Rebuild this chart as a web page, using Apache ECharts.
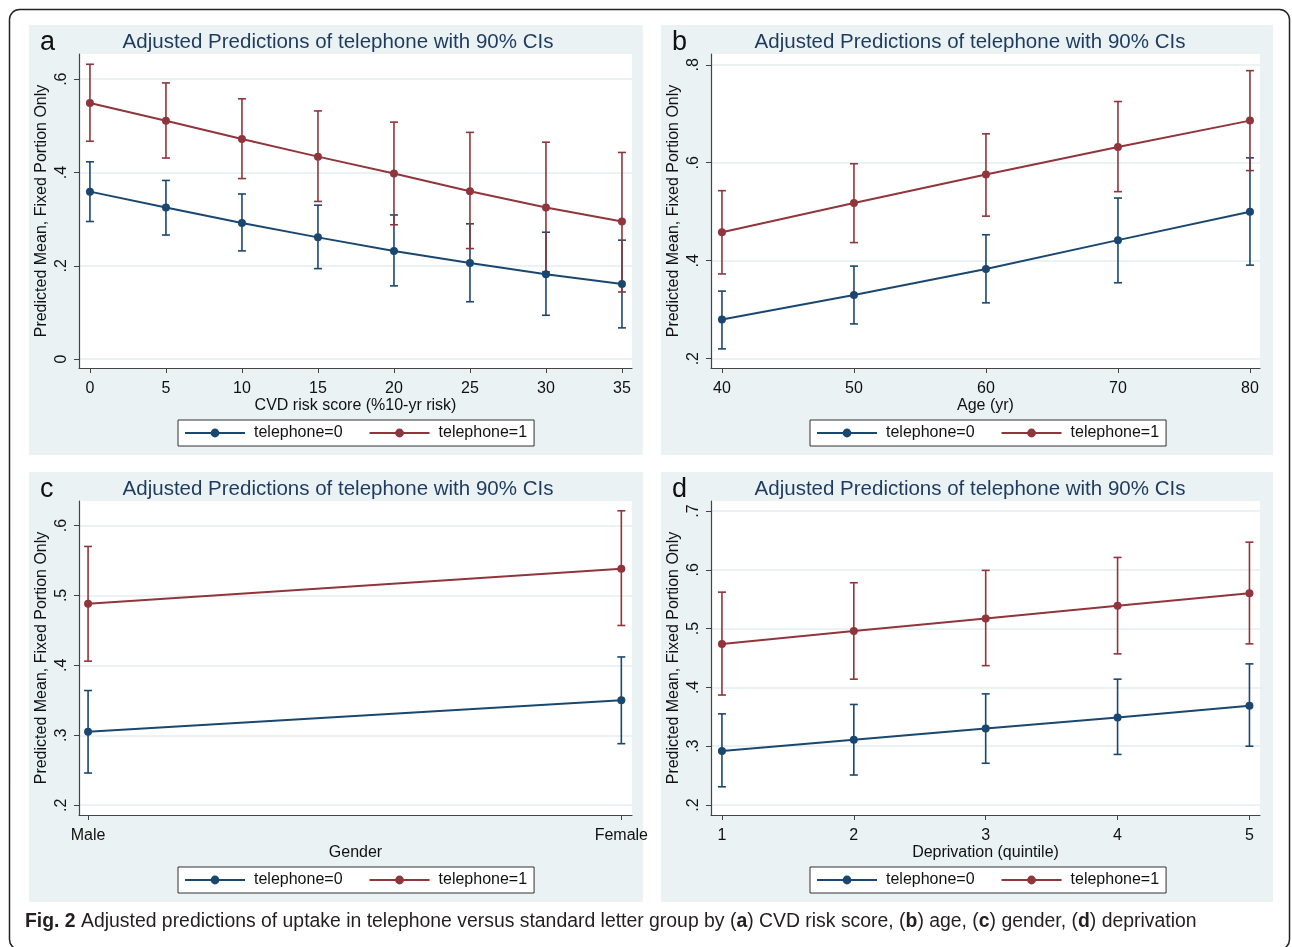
<!DOCTYPE html>
<html>
<head>
<meta charset="utf-8">
<title>Adjusted predictions of uptake</title>
<script src="https://cdn.jsdelivr.net/npm/echarts@6/dist/echarts.min.js"></script>
<style>
  html, body { margin: 0; padding: 0; background: #fff; }
  #main { width: 1292px; height: 947px; }
</style>
</head>
<body>
<div id="main"></div>
<script>
// ---- data ----
// (a) CVD risk score
const riskScore = [0, 5, 10, 15, 20, 25, 30, 35];
const riskTel0 = [0.359, 0.325, 0.292, 0.261, 0.232, 0.206, 0.182, 0.161];
const riskTel0Lo = [0.295, 0.266, 0.232, 0.194, 0.157, 0.123, 0.094, 0.067];
const riskTel0Hi = [0.423, 0.383, 0.354, 0.330, 0.309, 0.290, 0.272, 0.255];
const riskTel1 = [0.549, 0.511, 0.472, 0.434, 0.398, 0.360, 0.325, 0.295];
const riskTel1Lo = [0.467, 0.431, 0.387, 0.338, 0.288, 0.237, 0.187, 0.144];
const riskTel1Hi = [0.632, 0.592, 0.558, 0.532, 0.508, 0.486, 0.465, 0.443];
const riskTicksY = [0, 0.2, 0.4, 0.6];

// (b) age
const age = [40, 50, 60, 70, 80];
const ageTel0 = [0.280, 0.330, 0.383, 0.442, 0.500];
const ageTel0Lo = [0.220, 0.271, 0.314, 0.355, 0.391];
const ageTel0Hi = [0.338, 0.389, 0.453, 0.528, 0.610];
const ageTel1 = [0.458, 0.518, 0.576, 0.632, 0.686];
const ageTel1Lo = [0.373, 0.437, 0.491, 0.541, 0.584];
const ageTel1Hi = [0.543, 0.598, 0.659, 0.725, 0.788];
const ageTicksY = [0.2, 0.4, 0.6, 0.8];

// (c) gender
const gender = ["Male", "Female"];
const genderTel0 = [0.305, 0.350];
const genderTel0Lo = [0.246, 0.288];
const genderTel0Hi = [0.364, 0.412];
const genderTel1 = [0.488, 0.538];
const genderTel1Lo = [0.406, 0.457];
const genderTel1Hi = [0.570, 0.621];
const genderTicksY = [0.2, 0.3, 0.4, 0.5, 0.6];

// (d) deprivation quintile
const quintile = [1, 2, 3, 4, 5];
const depTel0 = [0.292, 0.311, 0.330, 0.349, 0.369];
const depTel0Lo = [0.231, 0.251, 0.271, 0.286, 0.300];
const depTel0Hi = [0.355, 0.371, 0.389, 0.414, 0.440];
const depTel1 = [0.474, 0.496, 0.517, 0.539, 0.560];
const depTel1Lo = [0.387, 0.414, 0.437, 0.457, 0.474];
const depTel1Hi = [0.562, 0.578, 0.599, 0.621, 0.647];
const depTicksY = [0.2, 0.3, 0.4, 0.5, 0.6, 0.7];

const seriesNames = ["telephone=0", "telephone=1"];
const titleText = "Adjusted Predictions of telephone with 90% CIs";
const yName = "Predicted Mean, Fixed Portion Only";

// ---- styles ----
const NAVY = "#1a476f";
const MAROON = "#90353b";
const PANEL_BG = "#eaf2f3";
const FONT = "'Liberation Sans', Arial, sans-serif";

const panels = [
  {
    letter: "a", dx: 0, dy: 0, w: 553,
    x: riskScore, xTicks: riskScore, xMin: -0.72, xMax: 35.66,
    yMin: -0.019, yMax: 0.654, yTicks: riskTicksY,
    xName: "CVD risk score (%10-yr risk)",
    tel0: [riskTel0, riskTel0Lo, riskTel0Hi],
    tel1: [riskTel1, riskTel1Lo, riskTel1Hi]
  },
  {
    letter: "b", dx: 632, dy: 0, w: 549,
    x: age, xTicks: age, xMin: 39.17, xMax: 80.76,
    yMin: 0.181, yMax: 0.822, yTicks: ageTicksY,
    xName: "Age (yr)",
    tel0: [ageTel0, ageTel0Lo, ageTel0Hi],
    tel1: [ageTel1, ageTel1Lo, ageTel1Hi]
  },
  {
    letter: "c", dx: 0, dy: 447, w: 553,
    x: [0, 1], xTicks: [0, 1], xLabels: gender, xMin: -0.017, xMax: 1.02,
    yMin: 0.186, yMax: 0.635, yTicks: genderTicksY,
    xName: "Gender",
    tel0: [genderTel0, genderTel0Lo, genderTel0Hi],
    tel1: [genderTel1, genderTel1Lo, genderTel1Hi]
  },
  {
    letter: "d", dx: 632, dy: 447, w: 549,
    x: quintile, xTicks: quintile, xMin: 0.917, xMax: 5.08,
    yMin: 0.183, yMax: 0.717, yTicks: depTicksY,
    xName: "Deprivation (quintile)",
    tel0: [depTel0, depTel0Lo, depTel0Hi],
    tel1: [depTel1, depTel1Lo, depTel1Hi]
  }
];

function fmtY(v) {
  const r = Math.round(v * 100) / 100;
  return r === 0 ? "0" : String(r).replace(/^0/, "");
}

function errorBar(color) {
  return function (params, api) {
    const x = api.value(0);
    const top = api.coord([x, api.value(2)]);
    const bot = api.coord([x, api.value(1)]);
    const hw = 4;
    const style = { stroke: color, lineWidth: 1.6 };
    return {
      type: "group",
      children: [
        { type: "line", shape: { x1: top[0], y1: top[1], x2: bot[0], y2: bot[1] }, style: style },
        { type: "line", shape: { x1: top[0] - hw, y1: top[1], x2: top[0] + hw, y2: top[1] }, style: style },
        { type: "line", shape: { x1: bot[0] - hw, y1: bot[1], x2: bot[0] + hw, y2: bot[1] }, style: style }
      ]
    };
  };
}

const grids = [], xAxes = [], yAxes = [], series = [], legends = [], titles = [], graphics = [];

panels.forEach((p, i) => {
  // panel background
  graphics.push({
    type: "rect", z: -10,
    shape: { x: 29 + p.dx, y: 25 + p.dy, width: p.dx ? 612 : 614, height: 430 },
    style: { fill: PANEL_BG }
  });
  titles.push({
    text: titleText, left: 333 + p.dx, top: 27 + p.dy, textAlign: "center",
    textStyle: { fontFamily: FONT, fontSize: 20.5, fontWeight: "normal", color: "#1e3a5f" }
  });
  titles.push({
    text: p.letter, left: 35 + p.dx, top: 24 + p.dy,
    textStyle: { fontFamily: FONT, fontSize: 27, fontWeight: "normal", color: "#111" }
  });
  grids.push({
    left: 79 + p.dx, top: 54 + p.dy, width: p.w, height: 314,
    show: true, backgroundColor: "#fff", borderWidth: 0
  });
  xAxes.push({
    type: "value", gridIndex: i, min: p.xMin, max: p.xMax,
    name: p.xName, nameLocation: "middle", nameGap: 27,
    nameTextStyle: { fontFamily: FONT, fontSize: 16, color: "#111" },
    axisLine: { show: true, onZero: false, lineStyle: { color: "#444", width: 1.2 } },
    axisTick: { show: true, length: 5, customValues: p.xTicks, lineStyle: { color: "#444" } },
    axisLabel: {
      customValues: p.xTicks, margin: 13,
      fontFamily: FONT, fontSize: 16, color: "#111",
      formatter: (v) => (p.xLabels ? p.xLabels[Math.round(v)] : String(v))
    },
    splitLine: { show: false }
  });
  yAxes.push({
    type: "value", gridIndex: i, min: p.yMin, max: p.yMax,
    name: yName, nameLocation: "middle", nameRotate: 90, nameGap: 29,
    nameTextStyle: { fontFamily: FONT, fontSize: 16, color: "#111" },
    axisLine: { show: true, onZero: false, lineStyle: { color: "#444", width: 1.2 } },
    axisTick: { show: true, length: 5, customValues: p.yTicks, lineStyle: { color: "#444" } },
    axisLabel: {
      customValues: p.yTicks, rotate: 90, margin: 9,
      fontFamily: FONT, fontSize: 16, color: "#111",
      formatter: fmtY
    },
    splitLine: { show: true, lineStyle: { color: "#e4eef0", width: 1.5 } }
  });
  // 90% CI caps (named apart so the legend shows the line icons)
  [p.tel0, p.tel1].forEach((d, k) => {
    const color = k === 0 ? NAVY : MAROON;
    series.push({
      type: "custom", name: seriesNames[k] + " 90% CI", xAxisIndex: i, yAxisIndex: i,
      renderItem: errorBar(color), z: 2, silent: true,
      itemStyle: { color: color },
      encode: { x: 0, y: [1, 2] },
      data: p.x.map((x, j) => [x, d[1][j], d[2][j]])
    });
  });
  [p.tel0, p.tel1].forEach((d, k) => {
    const color = k === 0 ? NAVY : MAROON;
    series.push({
      type: "line", name: seriesNames[k], xAxisIndex: i, yAxisIndex: i, z: 3,
      symbol: "circle", symbolSize: 8, showSymbol: true,
      itemStyle: { color: color },
      lineStyle: { color: color, width: 2 },
      data: p.x.map((x, j) => [x, d[0][j]])
    });
  });
  legends.push({
    data: seriesNames, left: 178 + p.dx, top: 420 + p.dy,
    orient: "horizontal", itemWidth: 60, itemHeight: 11, itemGap: 26,
    padding: [5, 7, 5, 6], borderColor: "#333", borderWidth: 1, backgroundColor: "#fff",
    textStyle: { fontFamily: FONT, fontSize: 16, color: "#111", padding: [0, 0, 0, 4] }
  });
});

// outer figure frame and caption
graphics.push({
  type: "rect", z: -20,
  shape: { x: 9.5, y: 9.5, width: 1280, height: 940, r: 10 },
  style: { fill: "#fff", stroke: "#222", lineWidth: 1.5 }
});
graphics.push({
  type: "text", left: 25, top: 912,
  style: {
    text: "{b|Fig. 2} Adjusted predictions of uptake in telephone versus standard letter group by ({b|a}) CVD risk score, ({b|b}) age, ({b|c}) gender, ({b|d}) deprivation",
    font: "19.4px 'Liberation Sans', Arial, sans-serif",
    fill: "#231f20",
    rich: {
      b: { fontWeight: "bold", fontFamily: FONT, fontSize: 19.4, fill: "#231f20" }
    }
  }
});

const option = {
  animation: false,
  backgroundColor: "#fff",
  title: titles,
  legend: legends,
  grid: grids,
  xAxis: xAxes,
  yAxis: yAxes,
  graphic: graphics,
  series: series
};

const chart = echarts.init(document.getElementById("main"));
chart.setOption(option);
window.addEventListener("resize", () => chart.resize());
</script>
</body>
</html>
